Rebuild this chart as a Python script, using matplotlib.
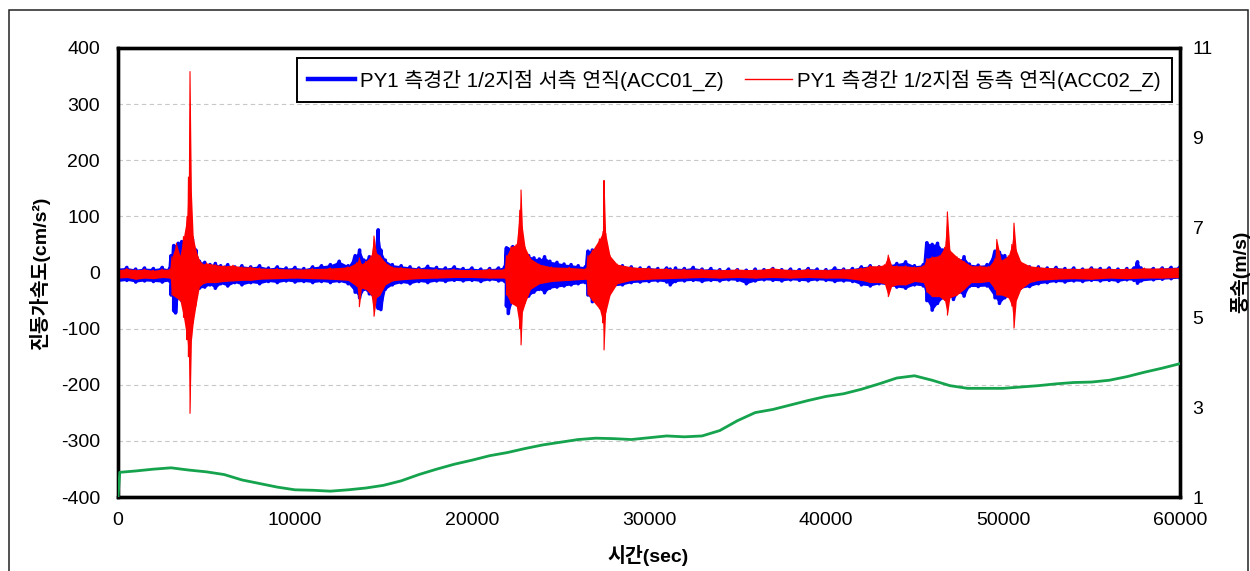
import numpy as np
import matplotlib
matplotlib.use("Agg")
import matplotlib.pyplot as plt
from matplotlib.lines import Line2D
from matplotlib.patches import Rectangle

FONTS = ["Liberation Sans", "Noto Sans CJK KR", "DejaVu Sans"]
plt.rcParams["font.family"] = FONTS
plt.rcParams["axes.unicode_minus"] = False

# ---- ACC01_Z (west side, vertical) : envelope of the acceleration record [cm/s^2]
acc01_t = [0, 500, 1000, 1500, 2000, 2500, 2900, 3000, 3150, 3250,
           3400, 3600, 3800, 4000, 4200, 4400, 4600, 4900, 5200, 5500,
           5800, 6200, 6600, 7000, 7500, 8000, 8500, 9000, 9500, 10000,
           10500, 11000, 11500, 12000, 12500, 13000, 13400, 13650, 13900, 14200,
           14500, 14700, 14850, 15100, 15500, 16000, 16500, 17000, 17500, 18000,
           18500, 19000, 19500, 20000, 20500, 21000, 21500, 21850, 21950, 22050,
           22300, 22600, 22900, 23200, 23500, 23800, 24100, 24400, 24800, 25200,
           25600, 26000, 26400, 26550, 26800, 27100, 27400, 27700, 28000, 28500,
           29000, 29500, 30000, 30500, 31000, 31200, 31500, 32000, 32500, 33000,
           33500, 34000, 34500, 35000, 35500, 36000, 36500, 37000, 37500, 38000,
           38500, 39000, 39500, 40000, 40500, 41000, 41500, 42000, 42500, 43000,
           43500, 44000, 44500, 45000, 45500, 45700, 46000, 46300, 46600, 46900,
           47200, 47500, 47800, 48100, 48600, 49100, 49550, 49800, 50100, 50400,
           50700, 51000, 51500, 52000, 52500, 53000, 53500, 54000, 54500, 55000,
           55500, 56000, 56500, 57000, 57400, 57600, 57800, 58500, 59000, 59500, 60000]
acc01_hi = [8, 9, 6, 8, 7, 9, 6, 30, 48, 45,
            52, 55, 58, 50, 60, 40, 20, 18, 14, 16,
            12, 14, 10, 12, 10, 12, 8, 10, 8, 9,
            7, 10, 12, 14, 20, 12, 30, 40, 22, 28,
            35, 76, 40, 22, 14, 12, 10, 8, 11, 9,
            8, 10, 7, 8, 6, 7, 8, 10, 44, 42,
            46, 44, 40, 30, 26, 24, 28, 20, 18, 15,
            14, 12, 10, 38, 40, 35, 40, 25, 14, 12,
            10, 8, 9, 7, 8, 6, 8, 7, 9, 6,
            7, 5, 6, 5, 4, 6, 5, 7, 5, 6,
            5, 7, 6, 5, 8, 6, 7, 10, 12, 10,
            14, 16, 19, 12, 14, 53, 50, 52, 40, 30,
            25, 22, 28, 15, 13, 14, 38, 36, 30, 25,
            20, 15, 10, 10, 8, 9, 7, 8, 6, 8,
            7, 8, 6, 7, 8, 19, 8, 7, 8, 9, 10]
acc01_lo = [-16, -14, -17, -15, -16, -17, -15, -40, -68, -72,
            -45, -50, -48, -55, -45, -40, -28, -26, -22, -28,
            -20, -24, -18, -22, -18, -20, -16, -18, -15, -17,
            -16, -18, -16, -18, -16, -20, -35, -45, -30, -38,
            -48, -64, -66, -30, -22, -18, -20, -16, -18, -15,
            -16, -14, -15, -14, -16, -13, -15, -16, -60, -73,
            -50, -55, -52, -42, -35, -30, -36, -28, -26, -24,
            -22, -20, -18, -40, -52, -45, -48, -35, -24, -22,
            -18, -17, -16, -15, -17, -22, -16, -15, -14, -16,
            -14, -15, -13, -14, -20, -15, -13, -14, -15, -13,
            -14, -15, -13, -14, -16, -15, -16, -22, -24, -20,
            -22, -26, -28, -22, -24, -50, -67, -55, -45, -40,
            -48, -35, -42, -25, -25, -24, -45, -55, -45, -40,
            -35, -28, -25, -20, -18, -16, -17, -15, -16, -14,
            -15, -14, -16, -13, -14, -19, -15, -13, -12, -11, -10]

# ---- ACC02_Z (east side, vertical) : envelope of the acceleration record [cm/s^2]
acc02_t = [0, 500, 1000, 1500, 2000, 2500, 2950, 3050, 3300, 3500,
           3700, 3900, 3980, 4068, 4150, 4250, 4400, 4600, 4800, 5000,
           5500, 6000, 6500, 7000, 7500, 8000, 9000, 10000, 11000, 12000,
           13000, 13500, 13636, 13750, 14000, 14300, 14464, 14600, 14800, 15100,
           15500, 16000, 17000, 18000, 19000, 20000, 21000, 21850, 21950, 22200,
           22500, 22700, 22770, 22850, 23000, 23300, 23800, 24500, 25500, 26450,
           26550, 26800, 27200, 27400, 27460, 27550, 27800, 28200, 29000, 30000,
           31000, 32000, 33000, 34000, 35000, 36000, 37000, 38000, 39000, 40000,
           41000, 42000, 42500, 43000, 43300, 43520, 43700, 44000, 44500, 45000,
           45500, 45700, 46000, 46400, 46700, 46860, 47000, 47400, 47800, 48200,
           48700, 49200, 49550, 49650, 49900, 50300, 50500, 50620, 50750, 51000,
           51500, 52000, 53000, 54000, 55000, 56000, 57000, 58000, 59000, 60000]
acc02_hi = [5, 7, 5, 6, 4, 6, 6, 28, 52, 30,
            64, 100, 170, 358, 140, 64, 40, 22, 15, 17,
            14, 12, 13, 10, 10, 8, 7, 6, 7, 8,
            10, 18, 26, 15, 20, 30, 65, 35, 30, 18,
            10, 9, 7, 6, 6, 5, 6, 6, 30, 46,
            50, 111, 147, 80, 45, 25, 15, 10, 9, 7,
            30, 40, 60, 73, 164, 70, 30, 15, 10, 8,
            7, 6, 6, 5, 6, 5, 8, 5, 6, 5,
            6, 8, 12, 12, 14, 31, 13, 12, 12, 10,
            12, 25, 28, 30, 45, 108, 40, 28, 20, 12,
            12, 11, 25, 59, 22, 30, 50, 88, 40, 20,
            12, 10, 8, 7, 8, 7, 7, 8, 8, 9]
acc02_lo = [-10, -9, -12, -10, -11, -9, -10, -40, -45, -50,
            -80, -120, -150, -251, -120, -90, -60, -25, -20, -18,
            -18, -16, -15, -14, -14, -12, -11, -10, -11, -12,
            -14, -25, -61, -28, -30, -40, -78, -45, -40, -22,
            -15, -13, -11, -10, -9, -9, -10, -10, -40, -55,
            -60, -100, -129, -70, -55, -30, -20, -16, -14, -12,
            -40, -50, -65, -90, -138, -72, -40, -20, -14, -12,
            -11, -10, -9, -10, -9, -10, -9, -10, -9, -10,
            -10, -14, -18, -18, -20, -43, -25, -22, -22, -16,
            -18, -35, -43, -43, -50, -76, -45, -40, -30, -18,
            -18, -16, -30, -40, -40, -45, -60, -99, -50, -30,
            -18, -14, -12, -11, -12, -10, -11, -10, -10, -9]

# ---- wind speed [m/s]
wind_t = [0, 100, 1000, 2000, 3000, 4000, 5000, 6000, 7000, 8000,
          9000, 10000, 11000, 12000, 13000, 14000, 15000, 16000, 17000, 18000,
          19000, 20000, 21000, 22000, 23000, 24000, 25000, 26000, 27000, 28000,
          29000, 30000, 31000, 32000, 33000, 34000, 35000, 36000, 37000, 38000,
          39000, 40000, 41000, 42000, 43000, 44000, 45000, 46000, 47000, 48000,
          49000, 50000, 51000, 52000, 53000, 54000, 55000, 56000, 57000, 58000,
          59000, 60000]
wind_v = [1.0, 1.55, 1.58, 1.62, 1.65, 1.60, 1.56, 1.50, 1.38, 1.30,
          1.22, 1.16, 1.15, 1.13, 1.16, 1.20, 1.26, 1.36, 1.50, 1.62,
          1.73, 1.82, 1.92, 1.99, 2.08, 2.16, 2.22, 2.28, 2.31, 2.30,
          2.28, 2.32, 2.36, 2.34, 2.36, 2.48, 2.70, 2.88, 2.95, 3.05,
          3.15, 3.24, 3.30, 3.40, 3.52, 3.65, 3.70, 3.60, 3.48, 3.42,
          3.42, 3.42, 3.45, 3.48, 3.52, 3.55, 3.56, 3.60, 3.68, 3.78,
          3.87, 3.97]

label_acc01 = "PY1 측경간 1/2지점 서측 연직(ACC01_Z)"
label_acc02 = "PY1 측경간 1/2지점 동측 연직(ACC02_Z)"
x_ticks = [0, 10000, 20000, 30000, 40000, 50000, 60000]
y_ticks = [-400, -300, -200, -100, 0, 100, 200, 300, 400]
y2_ticks = [1, 3, 5, 7, 9, 11]

BLUE = "#0000FF"
RED = "#FF0000"
GREEN = "#16A34E"

W, H = 1250, 571
fig = plt.figure(figsize=(W / 100, H / 100), dpi=100)
ax = fig.add_axes([118 / W, 1 - 497 / H, (1180 - 118) / W, (497 - 48) / H])
ax2 = ax.twinx()


def draw_band(axis, t, hi, lo, color, lw, z):
    t = np.asarray(t, float)
    hi = np.asarray(hi, float)
    lo = np.asarray(lo, float)
    axis.fill_between(t, lo, hi, color=color, lw=0, zorder=z)
    xs = np.repeat(t, 2)
    ys = np.column_stack([hi, lo]).ravel()
    axis.plot(xs, ys, color=color, lw=lw, zorder=z,
              solid_joinstyle="round", solid_capstyle="round")


draw_band(ax, acc01_t, acc01_hi, acc01_lo, BLUE, 2.6, 3)
draw_band(ax, acc02_t, acc02_hi, acc02_lo, RED, 0.8, 4)

ax2.plot(wind_t, wind_v, color=GREEN, lw=2.0, zorder=3)

ax.set_xlim(0, 60000)
ax.set_ylim(-400, 400)
ax2.set_ylim(1, 11)
ax.set_xticks(x_ticks)
ax.set_yticks(y_ticks)
ax2.set_yticks(y2_ticks)

ax.grid(axis="y", color="#c8c8c8", ls=(0, (4, 3)), lw=0.8, zorder=0)
ax.set_axisbelow(True)

for a in (ax, ax2):
    for s in a.spines.values():
        s.set_linewidth(2.4)
        s.set_color("black")
ax.tick_params(axis="y", length=0, pad=13, labelsize=14)
ax.tick_params(axis="x", length=0, pad=11, labelsize=14)
ax2.tick_params(axis="y", length=0, pad=9, labelsize=14)

fig.text(40 / W, 1 - 273 / H, "진동가속도(cm/s²)", rotation=90, ha="center",
         va="center", fontsize=14, fontweight="bold")
fig.text(648 / W, 1 - 555 / H, "시간(sec)", ha="center", va="center",
         fontsize=14, fontweight="bold")
fig.text(1240 / W, 1 - 272 / H, "풍속(m/s)", rotation=90, ha="center",
         va="center", fontsize=14, fontweight="bold")

handles = [Line2D([], [], color=BLUE, lw=3.2),
           Line2D([], [], color=RED, lw=1.0)]
leg = ax.legend(handles, [label_acc01, label_acc02], ncol=2, loc="upper right",
                bbox_to_anchor=(1172 / W, 1 - 58 / H), bbox_transform=fig.transFigure,
                fontsize=14.8, frameon=True, fancybox=False, framealpha=1,
                edgecolor="black", borderpad=0.55, handlelength=2.3,
                handletextpad=0.25, columnspacing=1.0, borderaxespad=0)
leg.get_frame().set_linewidth(1.4)
leg.set_zorder(10)

# outer frame of the figure
fig.patches.append(Rectangle((9 / W, -0.05), (1248 - 9) / W, 1.05 - 10 / H,
                             transform=fig.transFigure, fill=False,
                             edgecolor="#222222", lw=1.1))

fig.savefig("out.png", dpi=100)
